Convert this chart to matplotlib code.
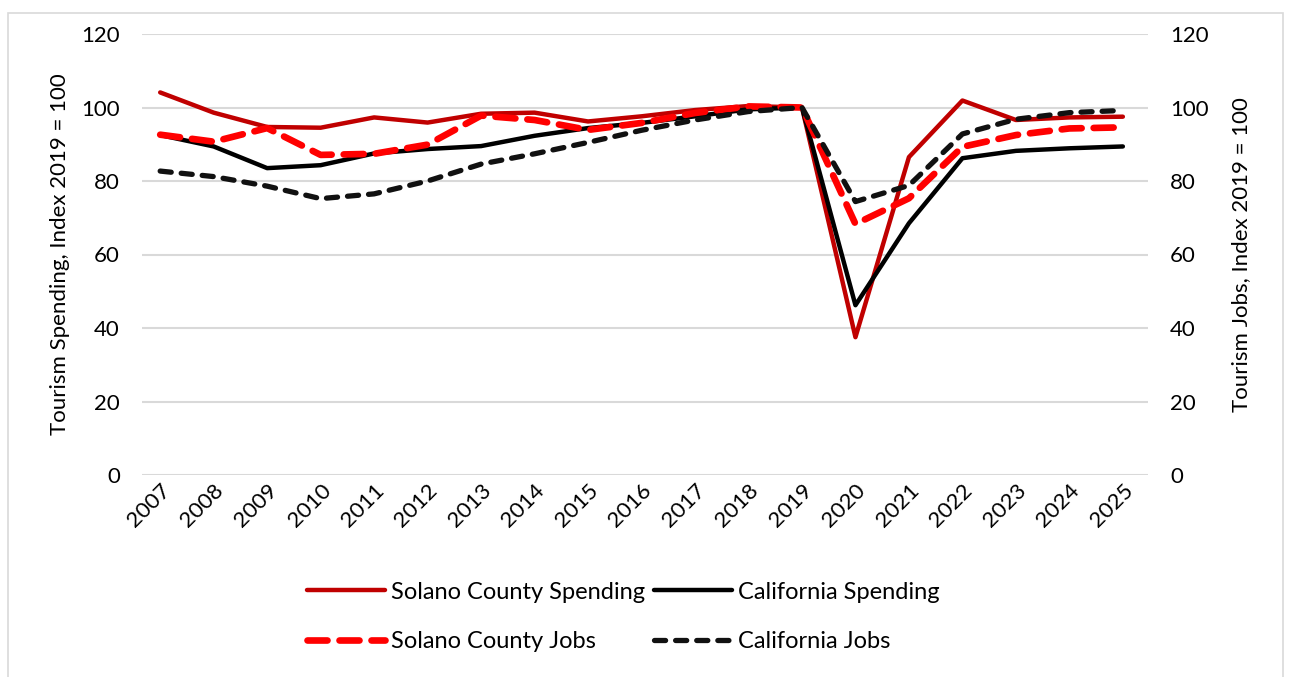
import matplotlib
matplotlib.use("Agg")
import matplotlib.pyplot as plt
from matplotlib.patches import Rectangle

years = ["2007", "2008", "2009", "2010", "2011", "2012", "2013", "2014", "2015", "2016",
         "2017", "2018", "2019", "2020", "2021", "2022", "2023", "2024", "2025"]

solano_spending = [104.1, 98.6, 94.7, 94.5, 97.3, 95.9, 98.3, 98.6, 96.2, 97.6,
                   99.3, 100.4, 100.0, 37.5, 86.5, 101.9, 96.6, 97.3, 97.5]
california_spending = [92.5, 89.4, 83.5, 84.3, 87.5, 88.7, 89.5, 92.3, 94.4, 95.8,
                       97.6, 99.5, 100.0, 46.2, 68.5, 86.2, 88.2, 88.9, 89.4]
solano_jobs = [92.6, 90.7, 94.4, 87.1, 87.4, 89.9, 97.8, 96.6, 93.9, 95.8,
               98.5, 100.3, 100.0, 68.3, 75.3, 89.3, 92.5, 94.3, 94.6]
california_jobs = [82.7, 81.2, 78.6, 75.2, 76.5, 80.0, 84.6, 87.4, 90.5, 93.8,
                   96.6, 98.9, 100.0, 74.4, 78.8, 92.8, 96.8, 98.6, 99.2]

yticks = [0, 20, 40, 60, 80, 100, 120]

plt.rcParams["font.family"] = ["Lato", "DejaVu Sans"]

fig = plt.figure(figsize=(12.93, 6.77), dpi=100)
fig.patch.set_facecolor("white")

# light frame around the chart area
fig.add_artist(Rectangle((8 / 1293, -0.01), 1275 / 1293, 1 - 13 / 677 + 0.01,
                         transform=fig.transFigure, fill=False,
                         edgecolor="#d9d9d9", linewidth=1.2))

ax = fig.add_axes([142 / 1293, 1 - 475 / 677, (1148 - 142) / 1293, (475 - 34) / 677])
ax2 = ax.twinx()

x = list(range(len(years)))

l1, = ax.plot(x, solano_spending, color="#C00000", linewidth=3.2,
              solid_capstyle="round", solid_joinstyle="round", label="Solano County Spending", zorder=3)
l2, = ax.plot(x, california_spending, color="#000000", linewidth=3.2,
              solid_capstyle="round", solid_joinstyle="round", label="California Spending", zorder=4)
l3, = ax2.plot(x, solano_jobs, color="#FF0000", linewidth=4.8, dashes=(3.0, 1.8),
               dash_capstyle="round", label="Solano County Jobs", zorder=5)
l4, = ax2.plot(x, california_jobs, color="#111111", linewidth=3.8, dashes=(2.1, 1.9),
               dash_capstyle="round", label="California Jobs", zorder=6)

for a in (ax, ax2):
    a.set_ylim(0, 120)
    a.set_yticks(yticks)
    a.set_xlim(-0.34, 18.47)
    for s in a.spines.values():
        s.set_visible(False)
    a.tick_params(axis="both", length=0, labelsize=16, colors="#000000", pad=16)

ax.yaxis.grid(True, color="#d9d9d9", linewidth=1.5)
ax.set_axisbelow(True)

ax.set_xticks(x)
ax.set_xticklabels(years, rotation=45, ha="right", rotation_mode="anchor", fontsize=16)
ax.tick_params(axis="x", pad=4)

ax.set_ylabel("Tourism Spending, Index 2019 = 100", fontsize=16, labelpad=8)
ax2.set_ylabel("Tourism Jobs, Index 2019 = 100", fontsize=16, labelpad=16)

# column-wise fill: spending pair on top row, jobs pair on bottom row
fig.legend(handles=[l1, l3, l2, l4], loc="center", bbox_to_anchor=(0.482, 0.089),
           ncol=2, frameon=False, fontsize=17, handlelength=3.3, handletextpad=0.25,
           columnspacing=0.4, labelspacing=1.2)

fig.savefig("out.png", dpi=100, facecolor="white")
